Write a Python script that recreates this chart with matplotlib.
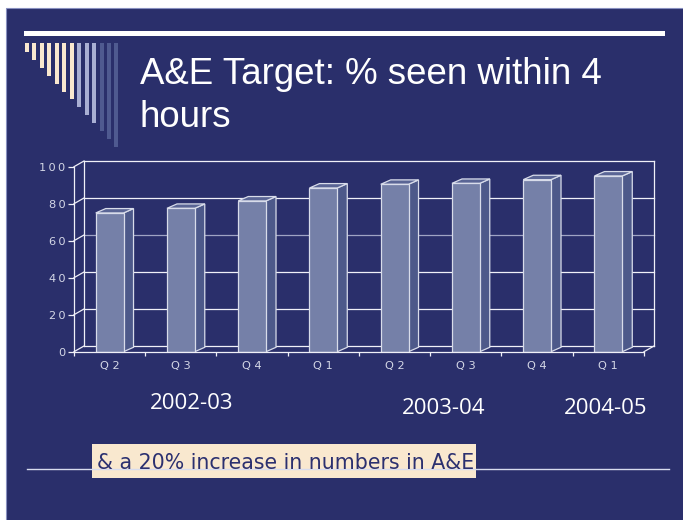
import matplotlib
matplotlib.use('Agg')
import matplotlib.pyplot as plt
from matplotlib.patches import Rectangle, Polygon

# data
quarters = ['Q 2', 'Q 3', 'Q 4', 'Q 1', 'Q 2', 'Q 3', 'Q 4', 'Q 1']
pct_seen = [75, 77.5, 81.5, 88.5, 90.5, 91, 93, 95]
y_ticks = [0, 20, 40, 60, 80, 100]
years = ['2002-03', '2003-04', '2004-05']

title_1 = 'A&E Target: % seen within 4'
title_2 = 'hours'
note = '& a 20% increase in numbers in A&E'

# colours
NAVY = '#2a2f6b'
CREAM = '#f9e8cf'
LAV = '#a9afd3'
DARK = '#4f5a90'
FRONT = '#7580a8'
SIDE = '#4d598a'
TOP = '#5a6595'
EDGE = '#d8dcea'
LBL = '#d4d7e6'

fig = plt.figure(figsize=(6.83, 5.2), dpi=100)
fig.patch.set_facecolor('white')

# slide background, in pixel coords
bg = fig.add_axes([0, 0, 1, 1])
bg.set_xlim(0, 683)
bg.set_ylim(520, 0)
bg.axis('off')
bg.add_patch(Rectangle((5.5, 8), 690, 520, facecolor=NAVY, edgecolor='#8890c0', lw=0.8))
bg.add_patch(Rectangle((24, 30.5), 641, 5, facecolor='white', lw=0))

# decorative stripes top left
for i in range(13):
    if i < 7:
        c = CREAM
    elif i < 10:
        c = LAV
    else:
        c = DARK
    bg.add_patch(Rectangle((25 + 7.45 * i, 43), 4, 9 + 7.9 * i, facecolor=c, lw=0))

bg.text(140, 84, title_1, fontsize=26.4, family='Liberation Sans', color='white', va='baseline')
bg.text(140, 126.7, title_2, fontsize=26.4, family='Liberation Sans', color='white', va='baseline')

# year labels under the quarters
year_x = [192, 444, 605.5]
year_base = [409, 414.5, 414.5]
for t, x, y in zip(years, year_x, year_base):
    bg.text(x, y, t, fontsize=16, family='Open Sans', color='white', ha='center', va='baseline')

# bottom rule and note box
bg.plot([27, 669], [469.3, 469.3], color='#d8dcee', lw=1)
bg.add_patch(Rectangle((91.5, 444), 384, 34, facecolor=CREAM, lw=0))
bg.text(97, 469, note, fontsize=14.8, family='DejaVu Sans', color='#2b3070', va='baseline')

# chart axes = front plane of the 3d chart
L, R, B, T = 74, 644, 351.7, 166.7
ax = fig.add_axes([L / 683, (520 - B) / 520, (R - L) / 683, (B - T) / 520])
ax.set_facecolor('none')
ax.set_xlim(-0.5, 7.5)
ax.set_ylim(0, 100)

px_x = 8 / (R - L)
px_y = 100 / (B - T)
wdx, wdy = 10 * px_x, 5.7 * px_y   # wall depth
bdx, bdy = 10 * px_x, 4.4 * px_y   # bar depth
bw = 0.39

# back wall, gridlines and left wall diagonals
x0, x1 = -0.5, 7.5
for g in y_ticks:
    col = '#9fa3c4' if g == 60 else '#f0f0f8'
    ax.plot([x0 + wdx, x1 + wdx], [g + wdy, g + wdy], color=col, lw=0.9, clip_on=False, zorder=1)
    ax.plot([x0, x0 + wdx], [g, g + wdy], color='#f0f0f8', lw=0.9, clip_on=False, zorder=1)
ax.plot([x0 + wdx, x0 + wdx], [wdy, 100 + wdy], color='#f0f0f8', lw=0.9, clip_on=False, zorder=1)
ax.plot([x1 + wdx, x1 + wdx], [wdy, 100 + wdy], color='#f0f0f8', lw=0.9, clip_on=False, zorder=1)
ax.plot([x1, x1 + wdx], [0, wdy], color='#f0f0f8', lw=0.9, clip_on=False, zorder=1)

# bars
xs = list(range(len(pct_seen)))
ax.bar(xs, pct_seen, width=bw, color=FRONT, edgecolor=EDGE, lw=0.9, zorder=4)
for x, v in zip(xs, pct_seen):
    side = [(x + bw / 2, 0), (x + bw / 2 + bdx, bdy), (x + bw / 2 + bdx, v + bdy), (x + bw / 2, v)]
    top = [(x - bw / 2, v), (x - bw / 2 + bdx, v + bdy), (x + bw / 2 + bdx, v + bdy), (x + bw / 2, v)]
    ax.add_patch(Polygon(side, closed=True, facecolor=SIDE, edgecolor=EDGE, lw=0.9, zorder=3, clip_on=False))
    ax.add_patch(Polygon(top, closed=True, facecolor=TOP, edgecolor=EDGE, lw=0.9, zorder=3, clip_on=False))

for s in ['top', 'right']:
    ax.spines[s].set_visible(False)
for s in ['left', 'bottom']:
    ax.spines[s].set_color('#f0f0f8')
    ax.spines[s].set_linewidth(0.9)
    ax.spines[s].set_zorder(5)

ax.set_yticks(y_ticks, labels=['\u2009'.join(str(t)) for t in y_ticks])
ax.tick_params(axis='y', length=4, width=0.9, color='#f0f0f8', labelcolor=LBL, labelsize=8.2, pad=2)
ax.set_xticks(xs, labels=quarters)
ax.set_xticks([i + 0.5 for i in range(-1, 8)], minor=True)
ax.tick_params(axis='x', which='major', length=0, labelcolor=LBL, labelsize=8.2, pad=7)
ax.tick_params(axis='x', which='minor', length=3, width=0.9, color='#f0f0f8')
for lab in ax.get_xticklabels() + ax.get_yticklabels():
    lab.set_family('DejaVu Sans')

fig.savefig('out.png', dpi=100, facecolor=fig.get_facecolor())
